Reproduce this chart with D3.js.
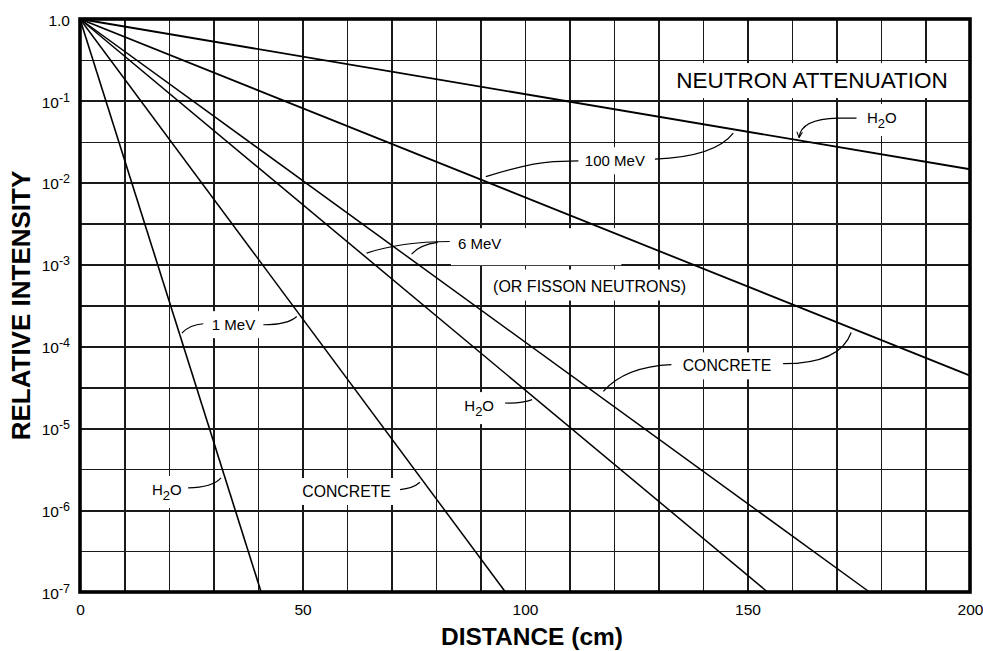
<!DOCTYPE html>
<html lang="en">
<head>
<meta charset="UTF-8">
<title>Neutron Attenuation</title>
<script src="https://d3js.org/d3.v7.min.js"></script>
<style>
  body { margin: 0; background: #fff; }
  svg { display: block; font-family: "Liberation Sans", Arial, Helvetica, sans-serif; }
  .grid line { stroke: #1a1a1a; stroke-width: 1.3px; shape-rendering: crispEdges; }
  .grid .major line { stroke-width: 2px; }
  .axis text { font-size: 15.5px; fill: #000; }
  .curve { fill: none; stroke: #000; }
  .leader { fill: none; stroke: #000; stroke-width: 1.2px; }
  .label { font-size: 15px; fill: #000; }
  .title { font-weight: bold; fill: #000; }
</style>
</head>
<body>
<svg width="983" height="651"></svg>
<script>
  // axis ticks and grid
  const xTickValues    = [0, 50, 100, 150, 200];
  const yTickExponents = [0, -1, -2, -3, -4, -5, -6, -7];
  const gridDistances  = [10, 20, 30, 40, 50, 60, 70, 80, 90, 100, 110, 120, 130, 140, 150, 160, 170, 180, 190];
  const gridExponents  = [-0.5, -1, -1.5, -2, -2.5, -3, -3.5, -4, -4.5, -5, -5.5, -6, -6.5];

  // attenuation curves: [distance (cm), relative intensity]
  const h2o100MeV      = [[0, 1], [200, 1.46e-2]];
  const concrete100MeV = [[0, 1], [200, 4.4e-5]];
  const concrete6MeV   = [[0, 1], [177.4, 1e-7]];
  const h2o6MeV        = [[0, 1], [154.5, 1e-7]];
  const concrete1MeV   = [[0, 1], [95.6, 1e-7]];
  const h2o1MeV        = [[0, 1], [40.7, 1e-7]];

  const curves = [
    { data: h2o100MeV,      w: 1.9 },
    { data: concrete100MeV, w: 1.8 },
    { data: concrete6MeV,   w: 1.5 },
    { data: h2o6MeV,        w: 1.5 },
    { data: concrete1MeV,   w: 1.5 },
    { data: h2o1MeV,        w: 1.6 }
  ];

  // callouts, placed in data units: [cm, log10 intensity]
  const labels = [
    { text: "NEUTRON ATTENUATION",  at: [164.5, -0.745], size: 22.5 },
    { text: "H2O", chem: true,      at: [180.2, -1.205] },
    { text: "100 MeV",              at: [120.2, -1.733] },
    { text: "6 MeV",                at: [89.8, -2.746], pad: [7, 7, 120, 13] },
    { text: "(OR FISSON NEUTRONS)", at: [114.5, -3.259], size: 16, pad: [8, 8, 7, 6] },
    { text: "CONCRETE",             at: [145.4, -4.235], size: 15.8 },
    { text: "H2O", chem: true,      at: [89.7, -4.724] },
    { text: "1 MeV",                at: [34.5, -3.735] },
    { text: "H2O", chem: true,      at: [19.5, -5.749] },
    { text: "CONCRETE",             at: [59.9, -5.77], size: 15.8 }
  ];

  // leader lines: start, optional straight part, quadratic control, end
  const leaders = [
    { pts: [[174.5, -1.212], [170.3, -1.212], [162.0, -1.221], [161.6, -1.449]], arrow: true },
    { pts: [[112.0, -1.733], [106.4, -1.742], [101.1, -1.758], [91.2, -1.925]] },
    { pts: [[129.2, -1.712], [142.7, -1.684], [146.8, -1.395]] },
    { pts: [[83.1, -2.718], [71.9, -2.722], [64.4, -2.860]] },
    { pts: [[80.4, -2.730], [76.4, -2.758], [74.5, -2.872]] },
    { pts: [[132.9, -4.223], [122.5, -4.248], [117.6, -4.549]] },
    { pts: [[158.0, -4.211], [170.8, -4.211], [173.3, -3.829]] },
    { pts: [[95.5, -4.691], [99.3, -4.699], [101.6, -4.650]] },
    { pts: [[27.7, -3.723], [24.7, -3.735], [22.9, -3.836]] },
    { pts: [[41.2, -3.735], [46.7, -3.735], [48.7, -3.634]] },
    { pts: [[24.3, -5.728], [29.7, -5.724], [31.7, -5.606]] },
    { pts: [[71.9, -5.749], [74.8, -5.737], [76.4, -5.660]] }
  ];

  const svg    = d3.select("svg"),
        margin = { top: 19, right: 13, bottom: 59, left: 80 },
        width  = +svg.attr("width")  - margin.left - margin.right,
        height = +svg.attr("height") - margin.top  - margin.bottom,
        g      = svg.append("g").attr("transform", `translate(${margin.left},${margin.top})`);

  const x = d3.scaleLinear().domain([0, 200]).range([0, width]);
  const y = d3.scaleLog().domain([1e-7, 1]).range([height, 0]);
  const px = p => [x(p[0]), y(Math.pow(10, p[1]))];

  svg.append("defs").append("marker")
    .attr("id", "arrow")
    .attr("viewBox", "0 0 10 10")
    .attr("refX", 9).attr("refY", 5)
    .attr("markerWidth", 7).attr("markerHeight", 7)
    .attr("markerUnits", "userSpaceOnUse")
    .attr("orient", "auto")
    .append("path")
      .attr("d", "M1,1 L9,5 L1,9")
      .attr("fill", "none")
      .attr("stroke", "#000")
      .attr("stroke-width", 1.4);

  // grid
  g.append("g")
    .attr("class", "grid")
    .attr("transform", `translate(0,${height})`)
    .call(d3.axisBottom(x).tickValues(gridDistances).tickSize(-height).tickFormat(""))
    .call(a => a.select(".domain").remove());

  g.append("g")
    .attr("class", "grid")
    .call(d3.axisLeft(y).tickValues(gridExponents.map(e => Math.pow(10, e))).tickSize(-width).tickFormat(""))
    .call(a => a.select(".domain").remove())
    .call(a => a.selectAll(".tick").classed("major", d => Number.isInteger(Math.round(Math.log10(d) * 2) / 2)));

  // white boxes behind callouts go here, under the curves
  const boxLayer = g.append("g");

  // curves
  const line = d3.line().x(d => x(d[0])).y(d => y(d[1]));
  g.selectAll("path.curve")
    .data(curves)
    .enter().append("path")
      .attr("class", "curve")
      .attr("stroke-width", d => d.w)
      .attr("d", d => line(d.data));

  // leaders
  g.selectAll("path.leader")
    .data(leaders)
    .enter().append("path")
      .attr("class", "leader")
      .attr("marker-end", d => d.arrow ? "url(#arrow)" : null)
      .attr("d", d => {
        const p = d.pts.map(px);
        let s = `M${p[0]}`;
        if (p.length === 4) s += `L${p[1]}Q${p[2]} ${p[3]}`;
        else s += `Q${p[1]} ${p[2]}`;
        return s;
      });

  // callout text
  labels.forEach(l => {
    const size = l.size || 15;
    const [cx, cy] = px(l.at);
    const t = g.append("text")
      .attr("class", "label")
      .attr("x", cx)
      .attr("y", cy + size * 0.36)
      .attr("text-anchor", "middle")
      .style("font-size", size + "px");
    if (l.chem) {
      t.append("tspan").text("H");
      t.append("tspan").attr("dy", 5).style("font-size", (size - 2) + "px").text("2");
      t.append("tspan").attr("dy", -5).text("O");
    } else {
      t.text(l.text);
    }
    const b = t.node().getBBox(),
          pad = l.pad || [4, 5, 4, 5];
    boxLayer.append("rect")
      .attr("x", b.x - pad[0])
      .attr("y", b.y - pad[1])
      .attr("width", b.width + pad[0] + pad[2])
      .attr("height", b.height + pad[1] + pad[3])
      .attr("fill", "#fff");
  });

  // frame
  g.append("rect")
    .attr("width", width)
    .attr("height", height)
    .attr("fill", "none")
    .attr("stroke", "#000")
    .attr("stroke-width", 3.6);

  // axes (labels only)
  g.append("g")
    .attr("class", "axis")
    .attr("transform", `translate(0,${height})`)
    .call(d3.axisBottom(x).tickValues(xTickValues).tickSize(0).tickPadding(12))
    .call(a => a.select(".domain").remove());

  const yAxis = g.append("g")
    .attr("class", "axis")
    .call(d3.axisLeft(y).tickValues(yTickExponents.map(e => Math.pow(10, e))).tickSize(0).tickPadding(10).tickFormat(""))
    .call(a => a.select(".domain").remove());

  yAxis.selectAll(".tick text")
    .attr("dy", "0.4em")
    .each(function(d) {
      const e = Math.round(Math.log10(d)),
            t = d3.select(this);
      if (e === 0) { t.text("1.0"); return; }
      t.append("tspan").text("10");
      t.append("tspan").attr("dy", -6).style("font-size", "12.5px").text(`-${-e}`);
    });

  // axis titles
  svg.append("text")
    .attr("class", "title")
    .attr("x", 532)
    .attr("y", 645)
    .attr("text-anchor", "middle")
    .style("font-size", "24.5px")
    .text("DISTANCE (cm)");

  svg.append("text")
    .attr("class", "title")
    .attr("transform", `translate(30,${margin.top + height / 2}) rotate(-90)`)
    .attr("text-anchor", "middle")
    .style("font-size", "26px")
    .text("RELATIVE INTENSITY");
</script>
</body>
</html>
